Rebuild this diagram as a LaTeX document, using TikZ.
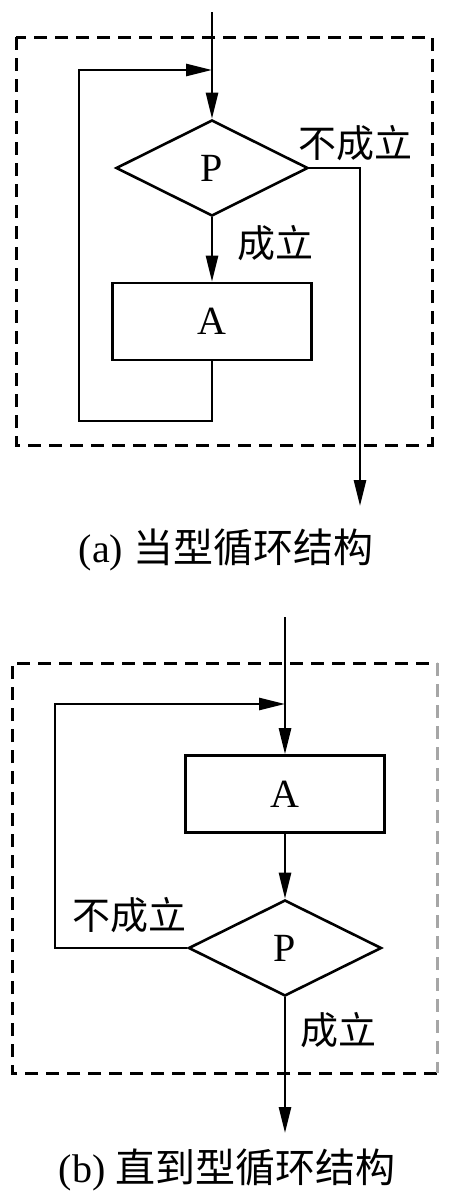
\documentclass[tikz,border=0pt]{standalone}
\usepackage{fontspec}
\setmainfont{Liberation Serif}
\newfontfamily\cjk{Noto Sans CJK SC}
\usetikzlibrary{arrows.meta,shapes.geometric}

\begin{document}
\begin{tikzpicture}[x=1pt, y=-1pt, line width=2.6pt, >={Triangle[length=26pt,width=12pt]},
	decide/.style={draw, diamond, inner sep=0pt, minimum width=#1, minimum height=96pt, font=\fontsize{40}{42}\selectfont},
	proc/.style={draw, rectangle, inner sep=0pt, minimum width=199pt, minimum height=77pt, font=\fontsize{40}{42}\selectfont},
	lbl/.style={inner sep=0pt, font=\fontsize{38}{40}\selectfont\cjk},
	captext/.style={inner sep=0pt, font=\fontsize{40}{42}\selectfont},
	frame/.style={line width=3pt, dash pattern=on 13pt off 8pt}]
	\useasboundingbox (0,0) rectangle (456,1200);
	% (a) while loop
	\draw[frame] (16,37) rectangle (432,445);
	\node[decide=192pt] (Pa) at (212,168) {P};
	\node[proc] (Aa) at (212,321.5) {A};
	\coordinate (ina) at (212,12);
	\coordinate (ja) at (212,70);
	\coordinate (la) at (79,421);
	\coordinate (outa) at (360,506);
	\draw (ina) -- (ja);
	\draw[->] (ja) -- (Pa.north);
	\draw[->] (Pa.south) -- (Aa.north);
	\draw[->] (Aa.south) |- (la) |- (ja);
	\draw[->] (Pa.east) -| (outa);
	\node[lbl] (na) at (355,143) {不成立};
	\node[lbl] (ya) at (275,243) {成立};
	\node[captext] (capa) at (226,550) {(a) {\cjk 当型循环结构}};
	% (b) until loop
	\draw[frame] (437,1073) -- (12,1073) -- (12,663) -- (437,663);
	\draw[frame, gray!70] (437,663) -- (437,1073);
	\node[proc] (Ab) at (285,794) {A};
	\node[decide=193pt] (Pb) at (285,948) {P};
	\coordinate (inb) at (285,617);
	\coordinate (jb) at (285,704);
	\coordinate (lb) at (55,704);
	\coordinate (outb) at (285,1133);
	\draw (inb) -- (jb);
	\draw[->] (jb) -- (Ab.north);
	\draw[->] (Ab.south) -- (Pb.north);
	\draw[->] (Pb.west) -| (lb) -- (jb);
	\draw[->] (Pb.south) -- (outb);
	\node[lbl] (nb) at (129,915) {不成立};
	\node[lbl] (yb) at (338,1030) {成立};
	\node[captext] (capb) at (227,1170) {(b) {\cjk 直到型循环结构}};
\end{tikzpicture}
\end{document}
